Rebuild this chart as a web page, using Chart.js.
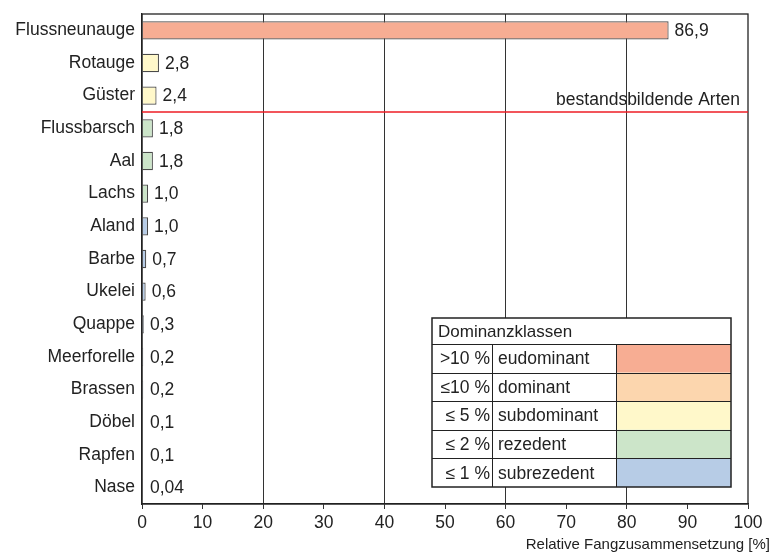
<!DOCTYPE html>
<html lang="de">
<head>
    <meta charset="UTF-8">
    <title>Relative Fangzusammensetzung</title>
    <script src="https://cdn.jsdelivr.net/npm/chart.js"></script>
    <style>
        body { margin: 0; background: #fff; }
        .chart-box { width: 774px; height: 553px; }
    </style>
</head>
<body>
    <div class="chart-box">
        <canvas id="fangChart"></canvas>
    </div>

    <script>
        // Daten
        const arten = ["Flussneunauge", "Rotauge", "Güster", "Flussbarsch", "Aal", "Lachs", "Aland",
            "Barbe", "Ukelei", "Quappe", "Meerforelle", "Brassen", "Döbel", "Rapfen", "Nase"];
        const anteile = [86.9, 2.8, 2.4, 1.8, 1.8, 1.0, 1.0, 0.7, 0.6, 0.3, 0.2, 0.2, 0.1, 0.1, 0.04];
        const anteilLabels = ["86,9", "2,8", "2,4", "1,8", "1,8", "1,0", "1,0", "0,7", "0,6", "0,3", "0,2", "0,2", "0,1", "0,1", "0,04"];
        const klasseJeArt = [0, 2, 2, 3, 3, 3, 4, 4, 4, 4, 4, 4, 4, 4, 4];

        // Dominanzklassen
        const klassenGrenzen = [">10 %", "\u226410 %", "\u2264 5 %", "\u2264 2 %", "\u2264 1 %"];
        const klassenNamen = ["eudominant", "dominant", "subdominant", "rezedent", "subrezedent"];
        const klassenFarben = ["#F7AD93", "#FCD6AE", "#FFF8CA", "#CCE5C9", "#B7CCE6"];

        const FONT = "'Liberation Sans', Arial, sans-serif";

        const extras = {
            id: "extras",
            afterDatasetsDraw(chart) {
                const ctx = chart.ctx;
                const area = chart.chartArea;
                const y = chart.scales.y;
                const meta = chart.getDatasetMeta(0);

                ctx.save();
                // Werte an den Balken
                ctx.font = "17.5px " + FONT;
                ctx.fillStyle = "#222";
                ctx.textBaseline = "middle";
                ctx.textAlign = "left";
                meta.data.forEach((bar, i) => {
                    ctx.fillText(anteilLabels[i], Math.max(bar.x, area.left + 2) + 6, bar.y + 1);
                });

                // Rahmen
                ctx.strokeStyle = "#222";
                ctx.lineWidth = 1.3;
                ctx.strokeRect(area.left, area.top, area.right - area.left, area.bottom - area.top);

                // Grenze bestandsbildende Arten
                const yl = Math.round((y.getPixelForValue(2) + y.getPixelForValue(3)) / 2);
                ctx.strokeStyle = "#EE1C25";
                ctx.lineWidth = 1.5;
                ctx.beginPath();
                ctx.moveTo(area.left, yl);
                ctx.lineTo(area.right, yl);
                ctx.stroke();
                ctx.textAlign = "right";
                ctx.textBaseline = "alphabetic";
                ctx.fillStyle = "#222";
                ctx.fillText("bestandsbildende Arten", area.right - 8, yl - 7);

                // Achsentitel
                ctx.font = "15px " + FONT;
                ctx.fillText("Relative Fangzusammensetzung [%]", 770, 549);

                // Legende als Tabelle
                const lx = 432, ly = 318, lw = 299, head = 26, rowH = 28.6;
                const c1 = 492, c2 = 616;
                const lh = head + rowH * klassenNamen.length;
                ctx.fillStyle = "#fff";
                ctx.fillRect(lx, ly, lw, lh);
                klassenFarben.forEach((farbe, i) => {
                    ctx.fillStyle = farbe;
                    ctx.fillRect(c2, ly + head + i * rowH, lx + lw - c2, rowH);
                });
                ctx.strokeStyle = "#222";
                ctx.lineWidth = 1;
                ctx.beginPath();
                for (let i = 0; i < klassenNamen.length; i++) {
                    const ry = Math.round(ly + head + i * rowH) + 0.5;
                    ctx.moveTo(lx, ry);
                    ctx.lineTo(lx + lw, ry);
                }
                ctx.moveTo(c1 + 0.5, ly + head);
                ctx.lineTo(c1 + 0.5, ly + lh);
                ctx.moveTo(c2 + 0.5, ly + head);
                ctx.lineTo(c2 + 0.5, ly + lh);
                ctx.stroke();
                ctx.lineWidth = 1.5;
                ctx.strokeRect(lx, ly, lw, lh);

                ctx.fillStyle = "#222";
                ctx.font = "17px " + FONT;
                ctx.textAlign = "left";
                ctx.textBaseline = "middle";
                ctx.fillText("Dominanzklassen", lx + 6, ly + head / 2 + 1);
                ctx.font = "17.5px " + FONT;
                klassenNamen.forEach((name, i) => {
                    const cy = ly + head + i * rowH + rowH / 2 + 1;
                    ctx.textAlign = "right";
                    ctx.fillText(klassenGrenzen[i], c1 - 2, cy);
                    ctx.textAlign = "left";
                    ctx.fillText(name, c1 + 6, cy);
                });
                ctx.restore();
            }
        };

        new Chart(document.getElementById("fangChart"), {
            type: "bar",
            data: {
                labels: arten,
                datasets: [{
                    data: anteile,
                    backgroundColor: klasseJeArt.map(k => klassenFarben[k]),
                    borderColor: "#4a4a4a",
                    borderWidth: 1.2,
                    barPercentage: 0.56,
                    categoryPercentage: 1
                }]
            },
            options: {
                indexAxis: "y",
                responsive: true,
                maintainAspectRatio: false,
                animation: false,
                layout: { padding: { top: 14, right: 26, left: 0, bottom: 0 } },
                plugins: {
                    legend: { display: false },
                    tooltip: { enabled: false }
                },
                scales: {
                    x: {
                        min: 0,
                        max: 100,
                        ticks: {
                            stepSize: 10,
                            color: "#222",
                            padding: 4,
                            font: { family: FONT, size: 17.5 }
                        },
                        grid: {
                            color: c => (c.tick && c.tick.value % 20 === 0 && c.tick.value > 0 && c.tick.value < 100) ? "#333" : "transparent",
                            tickColor: "#333",
                            tickLength: 5,
                            lineWidth: 1
                        },
                        border: { color: "#222", width: 1.3 },
                        afterFit: s => { s.height = 49; }
                    },
                    y: {
                        ticks: {
                            color: "#222",
                            padding: 7,
                            font: { family: FONT, size: 17.5 }
                        },
                        grid: { display: false, drawTicks: false },
                        border: { color: "#222", width: 1.3 },
                        afterFit: s => { s.width = 142; s.paddingTop = 0; s.paddingBottom = 0; }
                    }
                }
            },
            plugins: [extras]
        });
    </script>
</body>
</html>
